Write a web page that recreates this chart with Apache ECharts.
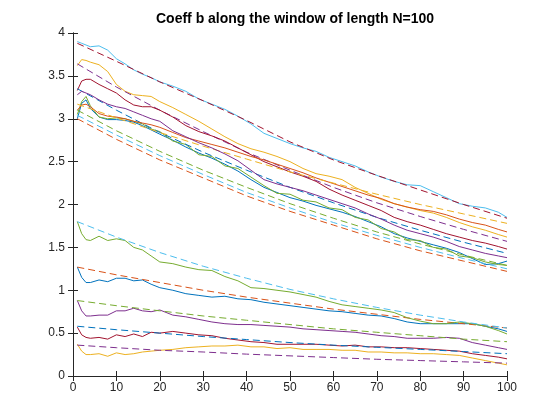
<!DOCTYPE html>
<html>
<head>
<meta charset="utf-8">
<script src="https://cdn.jsdelivr.net/npm/echarts@6/dist/echarts.min.js"></script>
<style>
html,body{margin:0;padding:0;background:#fff;}
#chart{width:560px;height:420px;}
</style>
</head>
<body>
<div id="chart"></div>
<script>
// ---- data ----
const chartTitle = 'Coeff b along the window of length N=100';
const xTicks = [0,10,20,30,40,50,60,70,80,90,100];
const yTicks = [0,0.5,1,1.5,2,2.5,3,3.5,4];

// x positions of the sampled solid curves
const xSolid = [1,2,3,4,6,8,10,12,14,16,18,20,23,26,29,32,35,38,41,44,47,50,53,56,59,62,65,68,71,74,77,80,83,86,89,92,95,98,100];
// x positions of the sampled dashed curves
const xDash = [1,10,20,30,40,50,60,70,80,90,100];

// upper group, solid
const upLightBlue = [3.90,3.88,3.86,3.84,3.85,3.80,3.70,3.64,3.57,3.52,3.48,3.43,3.38,3.32,3.23,3.17,3.11,3.03,2.94,2.83,2.77,2.71,2.66,2.62,2.55,2.50,2.45,2.38,2.32,2.27,2.23,2.22,2.15,2.08,2.01,1.98,1.96,1.91,1.85];
const upYellow = [3.62,3.69,3.68,3.66,3.63,3.55,3.40,3.32,3.28,3.27,3.26,3.20,3.13,3.05,2.97,2.88,2.79,2.71,2.65,2.61,2.56,2.50,2.42,2.36,2.33,2.29,2.20,2.13,2.06,2.01,1.97,1.93,1.90,1.85,1.79,1.74,1.70,1.65,1.62];
const upDarkRed = [3.33,3.44,3.46,3.46,3.40,3.35,3.30,3.22,3.16,3.14,3.14,3.10,3.02,2.92,2.85,2.80,2.74,2.66,2.58,2.50,2.44,2.38,2.33,2.27,2.18,2.11,2.05,1.99,1.93,1.85,1.80,1.76,1.71,1.66,1.62,1.58,1.55,1.51,1.48];
const upOrange = [3.10,3.16,3.17,3.14,3.06,3.03,3.02,3.00,2.97,2.95,2.93,2.90,2.84,2.78,2.74,2.70,2.66,2.61,2.56,2.52,2.47,2.42,2.37,2.31,2.26,2.21,2.16,2.11,2.07,2.01,1.97,1.94,1.92,1.88,1.83,1.79,1.76,1.71,1.68];
const upPurple = [3.28,3.32,3.30,3.28,3.22,3.17,3.14,3.12,3.08,3.04,3.00,2.97,2.86,2.79,2.72,2.66,2.59,2.51,2.40,2.29,2.24,2.20,2.16,2.11,2.06,2.01,1.96,1.89,1.83,1.76,1.70,1.66,1.62,1.57,1.51,1.47,1.43,1.40,1.38];
const upBlue = [3.00,3.18,3.22,3.12,3.02,2.99,2.99,2.98,2.96,2.92,2.87,2.82,2.75,2.67,2.60,2.54,2.47,2.39,2.29,2.20,2.14,2.08,2.04,1.99,1.95,1.91,1.86,1.80,1.74,1.66,1.61,1.57,1.53,1.49,1.44,1.37,1.30,1.31,1.34];
const upGreen = [3.05,3.20,3.26,3.15,3.02,3.00,3.01,3.00,2.97,2.94,2.88,2.85,2.74,2.70,2.58,2.56,2.45,2.42,2.32,2.22,2.13,2.12,2.05,2.03,1.96,1.94,1.85,1.82,1.72,1.68,1.59,1.58,1.50,1.48,1.40,1.38,1.33,1.30,1.29];

// lower group, solid
const loGreen = [1.80,1.66,1.59,1.58,1.63,1.58,1.60,1.58,1.50,1.47,1.40,1.33,1.31,1.27,1.24,1.23,1.16,1.11,1.03,1.02,1.00,0.98,0.95,0.92,0.87,0.83,0.81,0.79,0.77,0.74,0.68,0.64,0.61,0.61,0.63,0.61,0.58,0.53,0.49];
const loBlue = [1.27,1.15,1.09,1.09,1.12,1.10,1.14,1.14,1.11,1.12,1.07,1.03,1.00,0.96,0.94,0.92,0.93,0.90,0.89,0.86,0.84,0.82,0.80,0.78,0.76,0.75,0.73,0.71,0.70,0.67,0.63,0.61,0.61,0.61,0.61,0.61,0.58,0.55,0.52];
const loPurple = [0.88,0.76,0.70,0.70,0.71,0.71,0.76,0.76,0.79,0.76,0.75,0.77,0.71,0.69,0.66,0.63,0.61,0.60,0.60,0.59,0.58,0.57,0.55,0.54,0.53,0.52,0.51,0.49,0.47,0.46,0.44,0.44,0.44,0.45,0.44,0.39,0.36,0.33,0.31];
const loDarkRed = [0.57,0.48,0.45,0.44,0.45,0.43,0.48,0.46,0.49,0.46,0.51,0.50,0.52,0.50,0.48,0.47,0.44,0.42,0.40,0.39,0.37,0.37,0.37,0.37,0.36,0.35,0.36,0.34,0.34,0.33,0.33,0.32,0.31,0.30,0.29,0.26,0.24,0.22,0.20];
const loYellow = [0.37,0.29,0.25,0.25,0.26,0.23,0.27,0.25,0.26,0.28,0.29,0.30,0.31,0.33,0.34,0.35,0.35,0.36,0.34,0.34,0.32,0.33,0.31,0.31,0.31,0.30,0.30,0.28,0.28,0.27,0.27,0.26,0.26,0.25,0.24,0.21,0.18,0.15,0.13];

// upper group, dashed
const upDashDarkRed = [3.88,3.67,3.43,3.21,2.98,2.73,2.52,2.34,2.17,2.00,1.84];
const upDashPurple = [3.64,3.37,3.10,2.85,2.61,2.40,2.20,2.02,1.86,1.71,1.57];
const upDashBlue = [3.35,3.10,2.84,2.61,2.40,2.20,2.02,1.85,1.70,1.56,1.43];
const upDashYellow = [3.17,3.01,2.84,2.68,2.53,2.38,2.25,2.12,2.00,1.89,1.78];
const upDashGreen = [3.10,2.86,2.62,2.40,2.20,2.01,1.84,1.68,1.54,1.41,1.29];
const upDashLightBlue = [3.04,2.81,2.57,2.35,2.14,1.96,1.79,1.64,1.50,1.37,1.25];
const upDashOrange = [3.00,2.76,2.52,2.31,2.10,1.92,1.76,1.60,1.46,1.34,1.22];

// lower group, dashed
const loDashLightBlue = [1.80,1.62,1.44,1.28,1.14,1.01,0.90,0.80,0.71,0.63,0.56];
const loDashOrange = [1.27,1.18,1.09,1.00,0.92,0.85,0.78,0.72,0.66,0.61,0.56];
const loDashGreen = [0.88,0.82,0.76,0.70,0.65,0.60,0.55,0.51,0.47,0.43,0.40];
const loDashBlue = [0.58,0.54,0.50,0.46,0.425,0.39,0.36,0.335,0.31,0.285,0.26];
const loDashPurple = [0.36,0.33,0.30,0.28,0.255,0.235,0.215,0.195,0.18,0.165,0.15];

// ---- style ----
const C = {
  blue:'#0072BD', orange:'#D95319', yellow:'#EDB120', purple:'#7E2F8E',
  green:'#77AC30', lightblue:'#4DBEEE', darkred:'#A2142F'
};
const axisColor = '#262626';

const solidSeries = [
  [upBlue, C.blue], [upYellow, C.yellow], [upGreen, C.green], [upDarkRed, C.darkred],
  [upOrange, C.orange], [upPurple, C.purple], [upLightBlue, C.lightblue],
  [loBlue, C.blue], [loYellow, C.yellow], [loGreen, C.green], [loDarkRed, C.darkred], [loPurple, C.purple]
];
const dashSeries = [
  [upDashOrange, C.orange], [upDashPurple, C.purple], [upDashLightBlue, C.lightblue], [upDashBlue, C.blue],
  [upDashYellow, C.yellow], [upDashGreen, C.green], [upDashDarkRed, C.darkred],
  [loDashOrange, C.orange], [loDashPurple, C.purple], [loDashLightBlue, C.lightblue], [loDashBlue, C.blue], [loDashGreen, C.green]
];

const series = [];
for (let i = 0; i < solidSeries.length; i++) {
  const [ys, col] = solidSeries[i];
  series.push({
    type:'line', xAxisIndex:0, yAxisIndex:0, symbol:'none', silent:true,
    data: xSolid.map((x, j) => [x, ys[j]]),
    lineStyle:{color:col, width:1}
  });
  const [yd, cold] = dashSeries[i];
  series.push({
    type:'line', xAxisIndex:0, yAxisIndex:0, symbol:'none', silent:true,
    data: xDash.map((x, j) => [x, yd[j]]),
    lineStyle:{color:cold, width:1, type:[7,4]}
  });
}

const font = 'Arial, "Liberation Sans", Helvetica, sans-serif';
const xCommon = {
  type:'value', min:xTicks[0], max:xTicks[xTicks.length-1], interval:10,
  axisLine:{show:true, lineStyle:{color:axisColor, width:1}},
  axisTick:{show:true, inside:true, length:5, lineStyle:{color:axisColor}},
  splitLine:{show:false}
};
const yCommon = {
  type:'value', min:yTicks[0], max:yTicks[yTicks.length-1], interval:0.5,
  axisLine:{show:true, lineStyle:{color:axisColor, width:1}},
  axisTick:{show:true, inside:true, length:5, lineStyle:{color:axisColor}},
  splitLine:{show:false}
};

const chart = echarts.init(document.getElementById('chart'), null, {renderer:'canvas'});
chart.setOption({
  animation:false,
  backgroundColor:'#ffffff',
  title:{
    text: chartTitle, left:290, top:7, textAlign:'center',
    textStyle:{fontFamily:font, fontSize:14, fontWeight:'bold', color:'#000'}
  },
  grid:{left:73, right:53, top:33, bottom:44, containLabel:false},
  xAxis:[
    Object.assign({}, xCommon, {position:'bottom',
      axisLabel:{show:true, color:axisColor, fontFamily:font, fontSize:12, margin:6,
        formatter: v => xTicks.includes(v) ? String(v) : ''}}),
    Object.assign({}, xCommon, {position:'top', axisLabel:{show:false}})
  ],
  yAxis:[
    Object.assign({}, yCommon, {position:'left',
      axisLabel:{show:true, color:axisColor, fontFamily:font, fontSize:12, margin:8,
        formatter: v => yTicks.includes(v) ? String(v) : ''}}),
    Object.assign({}, yCommon, {position:'right', axisLabel:{show:false}})
  ],
  series: series
});
</script>
</body>
</html>
